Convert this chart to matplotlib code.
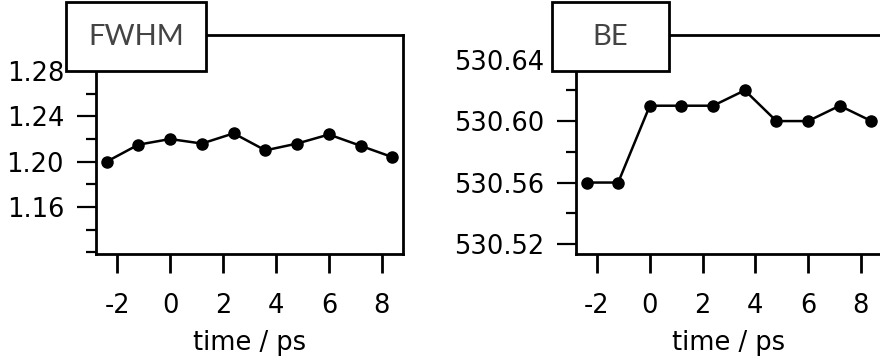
import matplotlib
matplotlib.use("Agg")
import matplotlib.pyplot as plt
from matplotlib.patches import Rectangle
from matplotlib.ticker import MultipleLocator, FixedLocator, FormatStrFormatter

# delay times and fitted peak parameters
time_ps = [-2.4, -1.2, 0.0, 1.2, 2.4, 3.6, 4.8, 6.0, 7.2, 8.4]
fwhm = [1.200, 1.215, 1.220, 1.216, 1.225, 1.210, 1.216, 1.224, 1.214, 1.204]
be = [530.56, 530.56, 530.61, 530.61, 530.61, 530.62, 530.60, 530.60, 530.61, 530.60]

fwhm_ticks = [1.16, 1.20, 1.24, 1.28]
be_ticks = [530.52, 530.56, 530.60, 530.64]

plt.rcParams['font.family'] = 'DejaVu Sans'
plt.rcParams['font.size'] = 18.5
plt.rcParams['axes.unicode_minus'] = False

fig = plt.figure(figsize=(8.8, 3.57), dpi=100)
ax1 = fig.add_axes([0.1091, 0.2885, 0.3489, 0.6134])
ax2 = fig.add_axes([0.6545, 0.2885, 0.3477, 0.6134])


def style(ax, y, ylim, ticks, box, label):
    ax.plot(time_ps, y, color='black', lw=1.8, marker='o', ms=8, zorder=3)
    ax.set_xlim(-2.8, 8.8)
    ax.set_ylim(*ylim)
    ax.xaxis.set_major_locator(MultipleLocator(2))
    ax.yaxis.set_major_locator(FixedLocator(ticks))
    ax.yaxis.set_minor_locator(MultipleLocator(0.02))
    ax.yaxis.set_major_formatter(FormatStrFormatter('%.2f'))
    for s in ax.spines.values():
        s.set_linewidth(2)
    ax.tick_params(axis='x', direction='out', length=14, width=2, pad=14)
    ax.tick_params(axis='y', which='major', direction='out', length=14,
                   width=1.6, pad=9)
    ax.tick_params(axis='y', which='minor', direction='out', length=7,
                   width=1.6)
    ax.set_xlabel('time / ps', labelpad=8)
    # label box sitting over the top-left corner
    x0, x1, y0, y1 = box
    ax.add_patch(Rectangle((x0, y0), x1 - x0, y1 - y0, transform=ax.transAxes,
                           facecolor='white', edgecolor='black', lw=2,
                           clip_on=False, zorder=10))
    ax.text((x0 + x1) / 2, (y0 + y1) / 2, label, transform=ax.transAxes,
            ha='center', va='center', fontsize=21, family='Lato',
            color='#444444', zorder=11)


style(ax1, fwhm, (1.1185, 1.3118), fwhm_ticks,
      (-0.0977, 0.358, 0.8356, 1.1507), 'FWHM')
style(ax2, be, (530.5135, 530.656), be_ticks,
      (-0.078, 0.304, 0.8356, 1.1507), 'BE')

fig.savefig('out.png', dpi=100)
